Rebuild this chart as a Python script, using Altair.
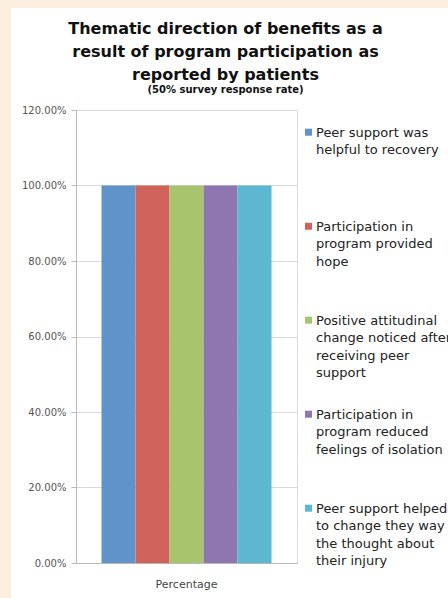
import altair as alt
import pandas as pd

categories = ["Percentage"]
series = [
    "Peer support was|helpful to recovery",
    "Participation in|program provided|hope",
    "Positive attitudinal|change noticed after|receiving peer|support",
    "Participation in|program reduced|feelings of isolation",
    "Peer support helped|to change they way|the thought about|their injury",
]
values = [1.0, 1.0, 1.0, 1.0, 1.0]
colors = ["#5F93C9", "#CF6259", "#A8C46C", "#8E77B1", "#5CB8D1"]
y_ticks = [0, 0.2, 0.4, 0.6, 0.8, 1.0, 1.2]

df = pd.DataFrame({
    "category": categories * len(series),
    "series": series,
    "value": values,
})

FONT = "DejaVu Sans"
PEACH = "#FCEFE0"

# decorative page border (peach strips left and top of the white panel)
one = pd.DataFrame({"a": [0]})
strip_left = alt.Chart(one).mark_rect(color=PEACH).encode(
    x=alt.value(-76), x2=alt.value(-65), y=alt.value(-110), y2=alt.value(488)
)
strip_top = alt.Chart(one).mark_rect(color=PEACH).encode(
    x=alt.value(-76), x2=alt.value(372), y=alt.value(-110), y2=alt.value(-102)
)

bars = alt.Chart(df).mark_bar().encode(
    x=alt.X("category:N", title=None,
            scale=alt.Scale(paddingInner=0, paddingOuter=0),
            axis=alt.Axis(labelAngle=0, ticks=False, labelFontSize=11,
                          labelColor="#444", labelPadding=15, labelFont=FONT,
                          domainColor="#b8b8b8")),
    xOffset=alt.XOffset("series:N", sort=series,
                        scale=alt.Scale(paddingInner=0, paddingOuter=0.75)),
    y=alt.Y("value:Q", title=None,
            scale=alt.Scale(domain=[0, 1.2], nice=False),
            axis=alt.Axis(values=y_ticks, format=".2%", labelFontSize=10,
                          labelColor="#555", labelFont=FONT, tickSize=5,
                          tickColor="#b8b8b8", domainColor="#b8b8b8",
                          gridColor="#d9d9d9", labelPadding=5)),
    color=alt.Color("series:N", sort=series,
                    scale=alt.Scale(domain=series, range=colors),
                    legend=alt.Legend(
                        title=None, orient="none", legendX=226, legendY=10,
                        labelExpr="split(datum.label, '|')",
                        labelFont=FONT, labelFontSize=13,
                        labelColor="#222", labelLimit=400, labelBaseline="top",
                        symbolType="M-1,0.63H1V2.63H-1Z", symbolSize=49,
                        symbolStrokeWidth=0,
                        labelOffset=1, gridAlign="all", rowPadding=22,
                        padding=0)),
)

chart = alt.layer(strip_left, strip_top, bars).properties(
    width=221, height=453,
    autosize=alt.AutoSizeParams(type="none"),
    padding={"left": 76, "top": 110, "right": 151, "bottom": 35},
    background="white",
    title=alt.Title(
        text=["Thematic direction of benefits as a",
              "result of program participation as",
              "reported by patients"],
        subtitle="(50% survey response rate)",
        font=FONT, fontSize=16, fontWeight="bold", color="#111",
        lineHeight=23, subtitleFont=FONT, subtitleFontSize=10,
        subtitleFontWeight="bold", subtitleColor="#111", subtitlePadding=2,
        anchor="middle", dx=39, offset=-95,
    ),
).configure_view(stroke=None).configure(
    style={"guide-label": {"lineHeight": 17.5}}
)

chart.save("out.html", embed_options={"renderer": "svg", "actions": False})
